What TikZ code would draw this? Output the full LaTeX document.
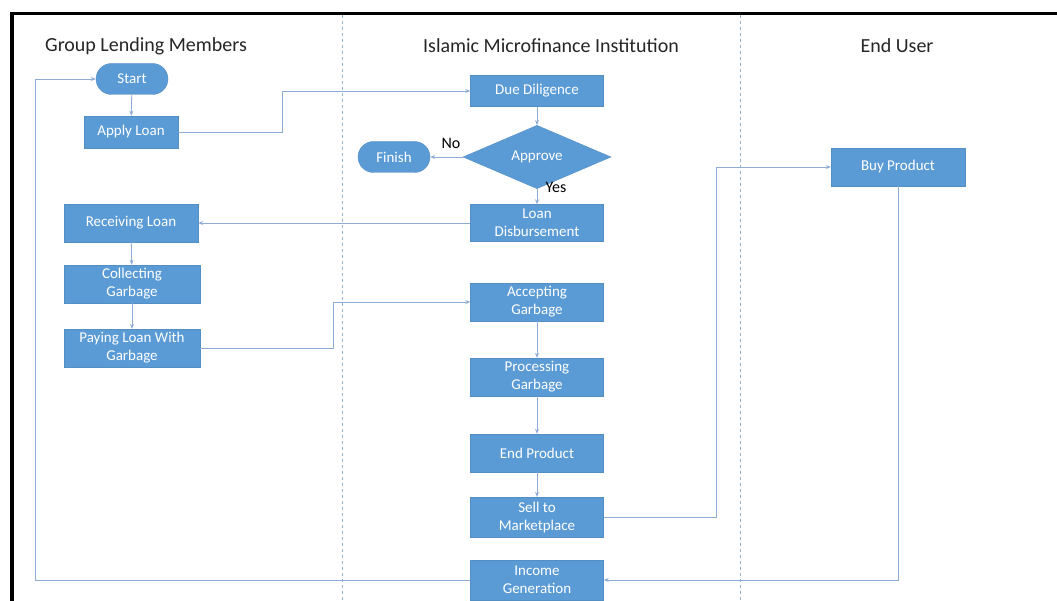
\documentclass[tikz,border=0pt]{standalone}
\usepackage{fontspec}
\setmainfont{Carlito}
\usetikzlibrary{arrows.meta,shapes.geometric}
\definecolor{boxblue}{RGB}{91,155,213}
\definecolor{flowcol}{RGB}{143,172,215}
\definecolor{lanecol}{RGB}{150,178,210}
\tikzset{
  box/.style={draw=boxblue!92!black, line width=0.4pt, fill=boxblue, text=white,
    font=\fontsize{15}{18}\selectfont, align=center, inner sep=0pt,
    minimum width=133pt, minimum height=38pt},
  term/.style={box, rounded corners=15.5pt, minimum width=72pt, minimum height=31pt},
  decision/.style={box, diamond, minimum width=148pt, minimum height=40pt},
  flow/.style={draw=flowcol, line width=0.8pt, -{Stealth[length=5pt,width=4pt]}},
  lane/.style={draw=lanecol, dashed, line width=0.6pt},
  lanetitle/.style={font=\fontsize{20}{24}\selectfont, text=black!85},
  answer/.style={font=\fontsize{16}{19}\selectfont, text=black}
}
\begin{document}
\begin{tikzpicture}[x=1pt,y=-1pt]
  \useasboundingbox[fill=white] (0,0) rectangle (1057,601);
  % frame and lanes
  \draw[line width=3.5pt] (12,601) -- (12,13.5) -- (1057,13.5);
  \draw[lane] (342,15) -- (342,601);
  \draw[lane] (740,15) -- (740,601);
  \node[lanetitle] (tgroup) at (146,46) {Group Lending Members};
  \node[lanetitle] (tinst) at (551,46) {Islamic Microfinance Institution};
  \node[lanetitle] (tuser) at (897,46) {End User};

  % group lending members
  \node[term] (start) at (132,79) {Start};
  \node[box, minimum width=94pt, minimum height=32pt] (apply) at (131,132) {Apply Loan};
  \node[box, minimum width=134pt] (receive) at (131,223) {Receiving Loan};
  \node[box, minimum width=136pt] (collect) at (132,284) {Collecting\\Garbage};
  \node[box, minimum width=136pt] (pay) at (132,348) {Paying Loan With\\Garbage};

  % institution
  \node[box, minimum height=31pt] (diligence) at (537,91) {Due Diligence};
  \node[decision] (approve) at (537,157) {Approve};
  \node[term] (finish) at (394,157) {Finish};
  \node[box, minimum height=37pt] (disburse) at (537,223) {Loan\\Disbursement};
  \node[box] (accept) at (537,302) {Accepting\\Garbage};
  \node[box] (process) at (537,377) {Processing\\Garbage};
  \node[box] (product) at (537,453) {End Product};
  \node[box, minimum height=40pt] (sell) at (537,517) {Sell to\\Marketplace};
  \node[box, minimum height=40pt] (income) at (537,580) {Income\\Generation};

  % end user
  \node[box, minimum width=134pt] (buy) at (898,167) {Buy Product};

  % connectors
  \draw[flow] (start) -- (apply);
  \draw[flow] (apply.east) -- ++(104,0) |- (diligence.west);
  \draw[flow] (diligence) -- (approve);
  \draw[flow] (approve) -- (finish);
  \node[answer] (no) at (451,143) {No};
  \draw[flow] (approve) -- (disburse);
  \node[answer] (yes) at (556,187) {Yes};
  \draw[flow] (disburse) -- (receive);
  \draw[flow] (receive) -- (collect);
  \draw[flow] (collect) -- (pay);
  \draw[flow] (pay.east) -- ++(133,0) |- (accept.west);
  \draw[flow] (accept) -- (process);
  \draw[flow] (process) -- (product);
  \draw[flow] (product) -- (sell);
  \draw[flow] (sell.east) -- ++(113,0) |- (buy.west);
  \draw[flow] (buy.south) |- (income.east);
  \draw[flow] (income.west) -- ++(-435,0) |- (start.west);
\end{tikzpicture}
\end{document}
